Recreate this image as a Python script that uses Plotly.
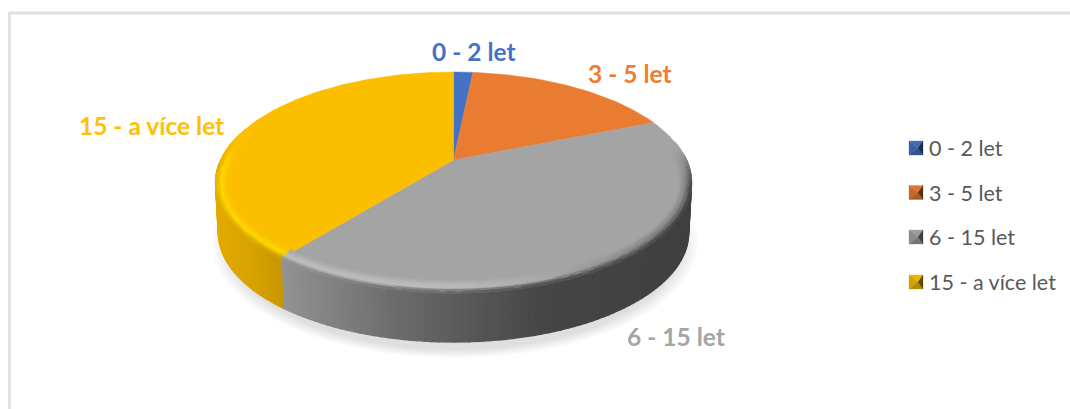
"""
Koláč věkových skupin s 3D vzhledem (elipsa, bok a zkosený okraj z hodnot)
"""

import numpy as np
import plotly.graph_objects as go

# Data
categories = ['0 - 2 let', '3 - 5 let', '6 - 15 let', '15 - a více let']
values = [1.6, 17.2, 41.9, 39.3]

# Barvy
top_colors = ['#4472c4', '#ea7c32', '#a4a4a4', '#fcbf00']
label_colors = ['#4472c4', '#ed7d31', '#a5a5a5', '#ffc000']
side_stops = {
    2: [(282, '#929292'), (400, '#6a6a6a'), (540, '#464646'), (700, '#3f3f3f')],
    3: [(215, '#e2aa00'), (250, '#d8a300'), (285, '#c69600')],
}

# Geometrie v pixelech
APEX_X, APEX_Y = 453.5, 160.0
A, B, K = 233.0, 105.9, 0.2036
CX, CY = 453.5, 182.5
DEPTH = 50.3
BOTTOM_SCALE = 0.988

label_pos = [(474, 51), (630, 73), (676, 336), (151, 125)]
legend_y = [148, 192.5, 237, 282]


def to_rgb(c):
    return np.array([int(c[i:i + 2], 16) for i in (1, 3, 5)], dtype=float)


def to_hex(rgb):
    return '#%02x%02x%02x' % tuple(int(round(v)) for v in rgb)


def blend(c1, c2, t):
    return to_hex(to_rgb(c1) * (1 - t) + to_rgb(c2) * t)


def ramp(v, a, b):
    t = np.clip((v - a) / (b - a), 0, 1)
    return t * t * (3 - 2 * t)


def point(theta):
    """Bod na okraji koláče, theta ve stupních od vrcholu po směru hodin"""
    r = np.radians(theta)
    w = 1 + K * np.cos(r)
    return APEX_X + A * np.sin(r) / w, APEX_Y - B * np.cos(r) / w


def ring(theta, rx, ry):
    x, y = point(theta)
    return CX + rx * (x - CX), CY + ry * (y - CY)


def lower(theta):
    x, y = point(theta)
    return CX + BOTTOM_SCALE * (x - CX), CY + DEPTH + BOTTOM_SCALE * (y - CY)


def side_color(idx, x):
    stops = side_stops[idx]
    for (x0, c0), (x1, c1) in zip(stops, stops[1:]):
        if x <= x1:
            return blend(c0, c1, np.clip((x - x0) / (x1 - x0), 0, 1))
    return stops[-1][1]


def rim_color(idx, theta, t, x):
    base = top_colors[idx]
    if idx == 2:
        hl = blend('#7c7c7c', '#bebebe', ramp(theta, 120, 185))
        presence = ramp(theta, 80, 108)
    else:
        hl = '#ffd800'
        presence = 1 - ramp(theta, 262, 285)
    if t < 0.55:
        col = blend(base, hl, t / 0.55)
    else:
        col = blend(hl, side_color(idx, x), (t - 0.55) / 0.45)
    return blend(base, col, presence)


def add_polys(store, color, xs, ys):
    bx, by = store.setdefault(color, ([], []))
    bx.extend(list(xs) + [xs[0], None])
    by.extend(list(ys) + [ys[0], None])


def add_store(fig, store, width):
    for color, (xs, ys) in store.items():
        fig.add_trace(go.Scatter(
            x=xs, y=ys, mode='lines', fill='toself', fillcolor=color,
            line=dict(color=color, width=width),
            hoverinfo='skip', showlegend=False
        ))


bounds = np.concatenate([[0], np.cumsum(values) / np.sum(values) * 360])

fig = go.Figure()

# Měkký stín pod koláčem
shadow_t = np.linspace(0, 2 * np.pi, 120)
for s in np.linspace(1.0, 0.93, 8):
    fig.add_trace(go.Scatter(
        x=455 + 243 * s * np.cos(shadow_t),
        y=243 + 115 * s * np.sin(shadow_t),
        mode='lines', fill='toself', fillcolor='rgba(0,0,0,0.014)',
        line=dict(width=0), hoverinfo='skip', showlegend=False
    ))

# Bok koláče
side = {}
for idx in side_stops:
    start, end = max(bounds[idx], 88), min(bounds[idx + 1], 268)
    steps = np.linspace(start, end, int((end - start) / 1.5) + 2)
    for a, b in zip(steps, steps[1:]):
        p = [point(a), point(b), lower(b), lower(a)]
        xm = (p[0][0] + p[1][0]) / 2
        add_polys(side, side_color(idx, xm), [q[0] for q in p], [q[1] for q in p])
add_store(fig, side, 1.4)

# Horní plocha
for idx, name in enumerate(categories):
    arc = np.linspace(bounds[idx], bounds[idx + 1], max(int(values[idx] * 3), 8))
    px, py = point(arc)
    fig.add_trace(go.Scatter(
        x=[APEX_X] + list(px) + [APEX_X],
        y=[APEX_Y] + list(py) + [APEX_Y],
        mode='lines', fill='toself', fillcolor=top_colors[idx],
        line=dict(color=top_colors[idx], width=0.5),
        hoveron='fills', name=name, text=f'{name}: {values[idx]}', hoverinfo='text',
        showlegend=False
    ))

# Zkosený okraj
rim = {}
levels = np.linspace(0, 1, 9)
for idx in side_stops:
    start, end = max(bounds[idx], 80), min(bounds[idx + 1], 285)
    steps = np.linspace(start, end, int((end - start) / 1.5) + 2)
    for a, b in zip(steps, steps[1:]):
        for t0, t1 in zip(levels, levels[1:]):
            rx0, ry0 = 0.95 + 0.05 * t0, 0.88 + 0.12 * t0
            rx1, ry1 = 0.95 + 0.05 * t1, 0.88 + 0.12 * t1
            p = [ring(a, rx0, ry0), ring(b, rx0, ry0), ring(b, rx1, ry1), ring(a, rx1, ry1)]
            color = rim_color(idx, (a + b) / 2, (t0 + t1) / 2, p[0][0])
            add_polys(rim, color, [q[0] for q in p], [q[1] for q in p])
add_store(fig, rim, 1.0)

# Popisky výsečí
for name, color, (lx, ly) in zip(categories, label_colors, label_pos):
    fig.add_annotation(
        x=lx, y=ly, text=f'<b>{name}</b>', showarrow=False,
        font=dict(family='Lato', size=24.5, color=color)
    )

# Legenda
for idx, (name, ly) in enumerate(zip(categories, legend_y)):
    c = top_colors[idx]
    x0, x1, y0, y1 = 909, 923, ly - 7, ly + 7
    xm, ym = (x0 + x1) / 2 + 2, ly
    faces = [
        ([x0, x1, xm], [y0, y0, ym], 0.95),
        ([x0, x0, xm], [y0, y1, ym], 0.85),
        ([x0, x1, xm], [y1, y1, ym], 0.72),
        ([x1, x1, xm], [y0, y1, ym], 0.38),
    ]
    for fx, fy, f in faces:
        fc = to_hex(to_rgb(c) * f)
        fig.add_trace(go.Scatter(
            x=fx + [fx[0]], y=fy + [fy[0]], mode='lines', fill='toself',
            fillcolor=fc, line=dict(color=fc, width=0.3),
            hoverinfo='skip', showlegend=False
        ))
    fig.add_annotation(
        x=926.5, y=ly, text=name, showarrow=False, xanchor='left',
        font=dict(family='Lato', size=21.5, color='#595959')
    )

# Rámeček grafu
fig.add_shape(type='line', x0=9.5, x1=1070, y0=13, y1=13,
              line=dict(color='#e0e0e0', width=3))
fig.add_shape(type='line', x0=9.5, x1=9.5, y0=12, y1=409,
              line=dict(color='#e0e0e0', width=3))

fig.update_layout(
    width=1070, height=409,
    margin=dict(l=0, r=0, t=0, b=0),
    paper_bgcolor='white', plot_bgcolor='white',
    showlegend=False,
    xaxis=dict(range=[0, 1070], visible=False, fixedrange=True),
    yaxis=dict(range=[409, 0], visible=False, fixedrange=True),
)

# bez okraje stránky, jinak se graf posune o 8 px
fig.write_html("out.html", post_script="document.body.style.margin='0';",
               config=dict(displayModeBar=False))
